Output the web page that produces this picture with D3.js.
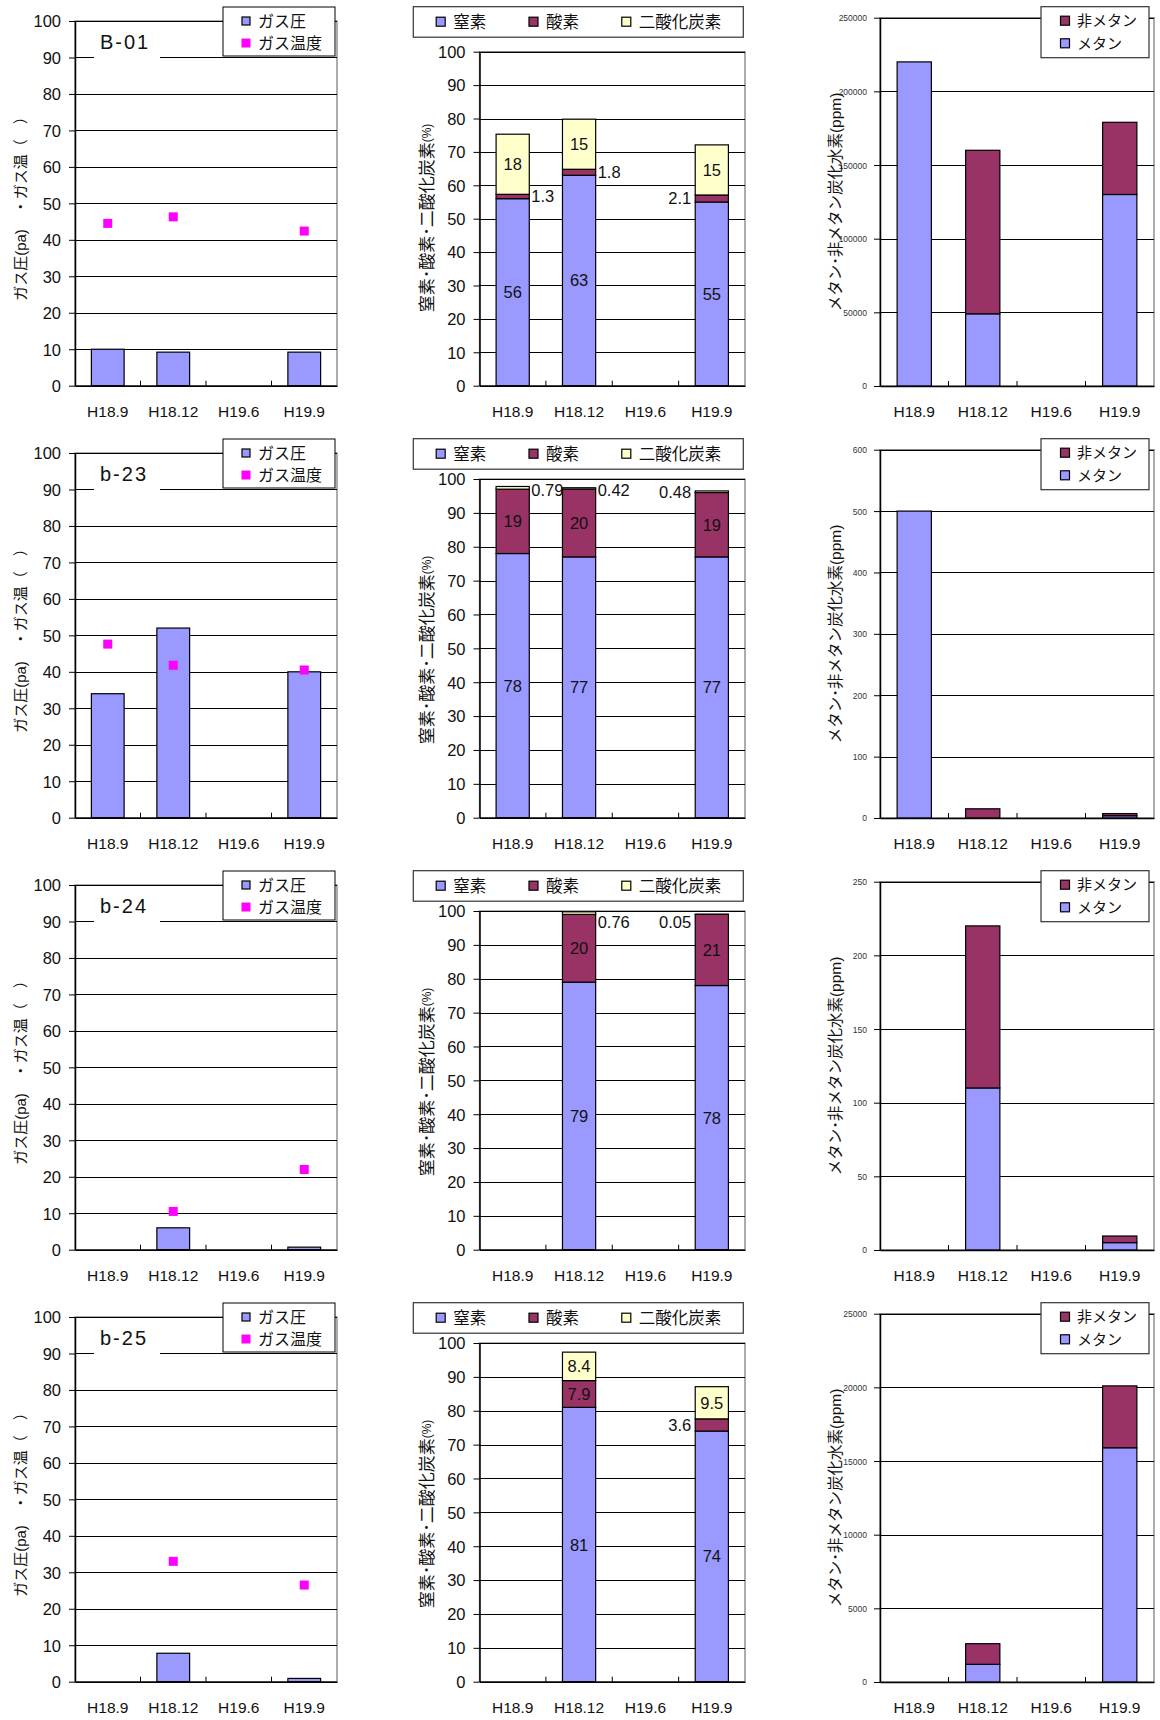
<!DOCTYPE html>
<html><head><meta charset="utf-8">
<script src="https://cdn.jsdelivr.net/npm/d3@7"></script>
<style>
html,body{margin:0;padding:0;background:#fff;}
svg{display:block;}
</style></head><body>
<svg id="chart" width="1160" height="1720"></svg>
<script>
// ---------------- DATA ----------------
const categories = ["H18.9", "H18.12", "H19.6", "H19.9"];
const wellNames = ["B-01", "b-23", "b-24", "b-25"];

// gas pressure (pa) and gas temperature per well (rows) and survey (columns)
const gasPressure = [
  [10, 9.2, null, 9.2],
  [34, 52, null, 40],
  [null, 6, null, 0.7],
  [null, 7.8, null, 0.9]
];
const gasTemperature = [
  [44.5, 46.3, null, 42.4],
  [47.6, 41.8, null, 40.5],
  [null, 10.5, null, 22.0],
  [null, 33.0, null, 26.5]
];

// gas composition (%)
const nitrogen = [
  [56, 63, null, 55],
  [78, 77, null, 77],
  [null, 79, null, 78],
  [null, 81, null, 74]
];
const oxygen = [
  [1.3, 1.8, null, 2.1],
  [19, 20, null, 19],
  [null, 20, null, 21],
  [null, 7.9, null, 3.6]
];
const carbonDioxide = [
  [18, 15, null, 15],
  [0.79, 0.42, null, 0.48],
  [null, 0.76, null, 0.05],
  [null, 8.4, null, 9.5]
];

// hydrocarbons (ppm)
const methane = [
  [220000, 49000, null, 130000],
  [500, 0, null, 3.7],
  [null, 110, null, 5],
  [null, 1200, null, 15900]
];
const nonMethane = [
  [0, 111000, null, 49000],
  [0, 15, null, 3.5],
  [null, 110, null, 4.5],
  [null, 1400, null, 4200]
];

// tick values
const pressureTicks = [0, 10, 20, 30, 40, 50, 60, 70, 80, 90, 100];
const compositionTicks = [0, 10, 20, 30, 40, 50, 60, 70, 80, 90, 100];
const hcTicks = [
  [0, 50000, 100000, 150000, 200000, 250000],
  [0, 100, 200, 300, 400, 500, 600],
  [0, 50, 100, 150, 200, 250],
  [0, 5000, 10000, 15000, 20000, 25000]
];

// texts
const legendPressure = ["ガス圧", "ガス温度"];
const legendComposition = ["窒素", "酸素", "二酸化炭素"];
const legendHC = ["非メタン", "メタン"];
const titlePressure = "ガス圧(pa)　・ガス温（　）";
const titleCompositionMain = "窒素･酸素･二酸化炭素";
const titleCompositionUnit = "(%)";
const titleHC = "メタン･非メタン炭化水素(ppm)";

// ---------------- DRAWING ----------------
const FONT = '"Liberation Sans", Arial, "Noto Sans CJK JP", sans-serif';
const COLORS = { blue: "#9999FF", maroon: "#993366", cream: "#FFFFCC", magenta: "#FF00FF" };
const rowY = [0, 432, 864, 1296];
const svg = d3.select("#chart").style("font-family", FONT);

function makeX(L) {
  return d3.scaleBand().domain(categories).range([L.left, L.right]).paddingInner(0.5).paddingOuter(0.25);
}

function drawFrame(g, L, x, y, ticks) {
  g.append("rect").attr("x", L.left).attr("y", L.top)
    .attr("width", L.right - L.left).attr("height", L.bottom - L.top)
    .attr("fill", "#fff").attr("stroke", "#808080").attr("stroke-width", 1.3);
  g.append("g").selectAll("line").data(ticks.filter(t => t > 0)).join("line")
    .attr("x1", L.left).attr("x2", L.right)
    .attr("y1", d => Math.round(y(d)) + 0.5).attr("y2", d => Math.round(y(d)) + 0.5)
    .attr("stroke", "#000").attr("stroke-width", 1);
}

function drawAxes(g, L, x, y, ticks, tickFontSize, tickPad, tickColor, labelY) {
  const ya = g.append("g").attr("transform", `translate(${L.left},0)`)
    .call(d3.axisLeft(y).tickValues(ticks).tickSize(6).tickSizeOuter(0).tickPadding(tickPad).tickFormat(d3.format("d")));
  ya.select(".domain").attr("stroke", "#000").attr("stroke-width", 1.5);
  ya.selectAll(".tick line").attr("stroke", "#000");
  ya.selectAll(".tick text").attr("font-size", tickFontSize).attr("fill", tickColor)
    .attr("font-family", FONT).attr("dy", "0.35em");
  const xa = g.append("g").attr("transform", `translate(0,${L.bottom})`)
    .call(d3.axisBottom(x).tickSize(0).tickSizeOuter(0).tickPadding(0));
  xa.select(".domain").attr("stroke", "#000").attr("stroke-width", 1.5);
  xa.selectAll(".tick text").attr("font-size", 15.5).attr("fill", "#111")
    .attr("font-family", FONT).attr("y", labelY - L.bottom).attr("dy", "0.35em");
  const step = x.step();
  g.append("g").selectAll("line").data(categories.slice(1)).join("line")
    .attr("x1", d => x(d) - step * 0.25).attr("x2", d => x(d) - step * 0.25)
    .attr("y1", L.bottom).attr("y2", L.bottom - 5)
    .attr("stroke", "#000").attr("stroke-width", 1);
}

function swatch(g, cx, cy, size, fill, stroke) {
  g.append("rect").attr("x", cx - size / 2).attr("y", cy - size / 2)
    .attr("width", size).attr("height", size).attr("fill", fill)
    .attr("stroke", stroke || "none").attr("stroke-width", 1.2);
}

for (let r = 0; r < 4; r++) {
  const oy = rowY[r];
  const labelY = oy + 411.5;

  // ===== Panel 1 : gas pressure / temperature =====
  {
    const L = { left: 75, right: 337, top: oy + 21, bottom: oy + 385.7 };
    const x = makeX(L);
    const y = d3.scaleLinear().domain([0, 100]).range([L.bottom, L.top]);
    const g = svg.append("g");
    drawFrame(g, L, x, y, pressureTicks);

    g.append("rect").attr("x", 94).attr("y", L.top + 5).attr("width", 66).attr("height", 36).attr("fill", "#fff");
    g.append("text").attr("x", 100).attr("y", L.top + 27.5).attr("font-size", 20)
      .attr("letter-spacing", "2px").attr("fill", "#111").text(wellNames[r]);

    const bars = categories.map((c, i) => ({ c, v: gasPressure[r][i] })).filter(d => d.v != null);
    g.append("g").selectAll("rect").data(bars).join("rect")
      .attr("x", d => x(d.c)).attr("width", x.bandwidth())
      .attr("y", d => y(d.v)).attr("height", d => y(0) - y(d.v))
      .attr("fill", COLORS.blue).attr("stroke", "#000").attr("stroke-width", 1.2);

    drawAxes(g, L, x, y, pressureTicks, 16.5, 8, "#111", labelY);

    const pts = categories.map((c, i) => ({ c, v: gasTemperature[r][i] })).filter(d => d.v != null);
    g.append("g").selectAll("rect").data(pts).join("rect")
      .attr("x", d => x(d.c) + x.bandwidth() / 2 - 4.5).attr("y", d => y(d.v) - 4.5)
      .attr("width", 9).attr("height", 9).attr("fill", COLORS.magenta);

    g.append("text").attr("transform", `translate(20.5,${oy + 205}) rotate(-90)`)
      .attr("text-anchor", "middle").attr("dominant-baseline", "central")
      .attr("font-size", 15).attr("fill", "#111").text(titlePressure);

    const lg = g.append("g");
    lg.append("rect").attr("x", 223).attr("y", L.top - 14).attr("width", 112).attr("height", 49)
      .attr("fill", "#fff").attr("stroke", "#000").attr("stroke-width", 1);
    swatch(lg, 246, L.top, 8, COLORS.blue, "#000");
    swatch(lg, 246, L.top + 22, 9, COLORS.magenta);
    lg.selectAll("text").data(legendPressure).join("text")
      .attr("x", 258).attr("y", (d, i) => L.top + i * 22).attr("dominant-baseline", "central")
      .attr("font-size", 16).attr("fill", "#111").text(d => d);
  }

  // ===== Panel 2 : gas composition =====
  {
    const L = { left: 479.5, right: 745, top: oy + (r === 0 ? 51.7 : 47), bottom: oy + 385.7 };
    const x = makeX(L);
    const y = d3.scaleLinear().domain([0, 100]).range([L.bottom, L.top]);
    const g = svg.append("g");
    drawFrame(g, L, x, y, compositionTicks);

    const series = [
      { key: "n2", vals: nitrogen[r], color: COLORS.blue },
      { key: "o2", vals: oxygen[r], color: COLORS.maroon },
      { key: "co2", vals: carbonDioxide[r], color: COLORS.cream }
    ];
    const segs = [];
    categories.forEach((c, i) => {
      if (series[0].vals[i] == null) return;
      let base = 0;
      series.forEach(s => {
        const v = s.vals[i];
        segs.push({ c, i, key: s.key, v, y0: base, y1: base + v, color: s.color });
        base += v;
      });
    });
    g.append("g").selectAll("rect").data(segs.filter(d => d.v > 0)).join("rect")
      .attr("x", d => x(d.c)).attr("width", x.bandwidth())
      .attr("y", d => y(d.y1)).attr("height", d => y(d.y0) - y(d.y1))
      .attr("fill", d => d.color).attr("stroke", "#000").attr("stroke-width", 1.2);

    drawAxes(g, L, x, y, compositionTicks, 16.5, 8, "#111", labelY);

    const lastIdx = categories.length - 1;
    g.append("g").selectAll("text").data(segs).join("text")
      .attr("font-size", 16.5).attr("fill", "#111").attr("dominant-baseline", "central")
      .each(function (d) {
        const el = d3.select(this);
        const mid = y((d.y0 + d.y1) / 2);
        const inside = d.key === "n2" || d.v >= 5;
        if (inside) {
          el.attr("x", x(d.c) + x.bandwidth() / 2).attr("y", mid).attr("text-anchor", "middle");
        } else if (d.i === lastIdx) {
          el.attr("x", x(d.c) - 4).attr("y", Math.max(mid, L.top + 11)).attr("text-anchor", "end");
        } else {
          el.attr("x", x(d.c) + x.bandwidth() + 2).attr("y", Math.max(mid, L.top + 11)).attr("text-anchor", "start");
        }
      })
      .text(d => String(d.v));

    const t = g.append("text").attr("transform", `translate(426.7,${oy + 218}) rotate(-90)`)
      .attr("text-anchor", "middle").attr("dominant-baseline", "central")
      .attr("font-size", 17).attr("fill", "#111");
    t.append("tspan").text(titleCompositionMain);
    t.append("tspan").attr("font-size", 12).text(titleCompositionUnit);

    const lg = g.append("g");
    lg.append("rect").attr("x", 413.3).attr("y", oy + 6.7).attr("width", 330).attr("height", 30.5)
      .attr("fill", "#fff").attr("stroke", "#333").attr("stroke-width", 1.2);
    const lx = [440.7, 533.5, 626.3];
    series.forEach((s, i) => swatch(lg, lx[i], oy + 21.7, 9, s.color, "#000"));
    lg.selectAll("text").data(legendComposition).join("text")
      .attr("x", (d, i) => lx[i] + 12.5).attr("y", oy + 21.7).attr("dominant-baseline", "central")
      .attr("font-size", 16.5).attr("fill", "#111").text(d => d);
  }

  // ===== Panel 3 : hydrocarbons =====
  {
    const L = { left: 880, right: 1154, top: oy + 17.7, bottom: oy + 386 };
    const x = makeX(L);
    const ticks = hcTicks[r];
    const y = d3.scaleLinear().domain([0, ticks[ticks.length - 1]]).range([L.bottom, L.top]);
    const g = svg.append("g");
    drawFrame(g, L, x, y, ticks);

    const segs = [];
    categories.forEach((c, i) => {
      if (methane[r][i] == null) return;
      const m = methane[r][i], n = nonMethane[r][i];
      segs.push({ c, v: m, y0: 0, y1: m, color: COLORS.blue });
      segs.push({ c, v: n, y0: m, y1: m + n, color: COLORS.maroon });
    });
    g.append("g").selectAll("rect").data(segs.filter(d => d.v > 0)).join("rect")
      .attr("x", d => x(d.c)).attr("width", x.bandwidth())
      .attr("y", d => y(d.y1)).attr("height", d => y(d.y0) - y(d.y1))
      .attr("fill", d => d.color).attr("stroke", "#000").attr("stroke-width", 1.2);

    drawAxes(g, L, x, y, ticks, 8.5, 7, "#333", labelY);

    g.append("text").attr("transform", `translate(835,${oy + 202}) rotate(-90)`)
      .attr("text-anchor", "middle").attr("dominant-baseline", "central")
      .attr("font-size", 15.5).attr("fill", "#111").text(titleHC);

    const lg = g.append("g");
    lg.append("rect").attr("x", 1041).attr("y", L.top - 11).attr("width", 108).attr("height", 51)
      .attr("fill", "#fff").attr("stroke", "#333").attr("stroke-width", 1.2);
    swatch(lg, 1065, L.top + 3, 9, COLORS.maroon, "#000");
    swatch(lg, 1065, L.top + 25.6, 9, COLORS.blue, "#000");
    lg.selectAll("text").data(legendHC).join("text")
      .attr("x", 1077).attr("y", (d, i) => L.top + 3 + i * 22.6).attr("dominant-baseline", "central")
      .attr("font-size", 15).attr("fill", "#111").text(d => d);
  }
}
</script>
</body></html>
